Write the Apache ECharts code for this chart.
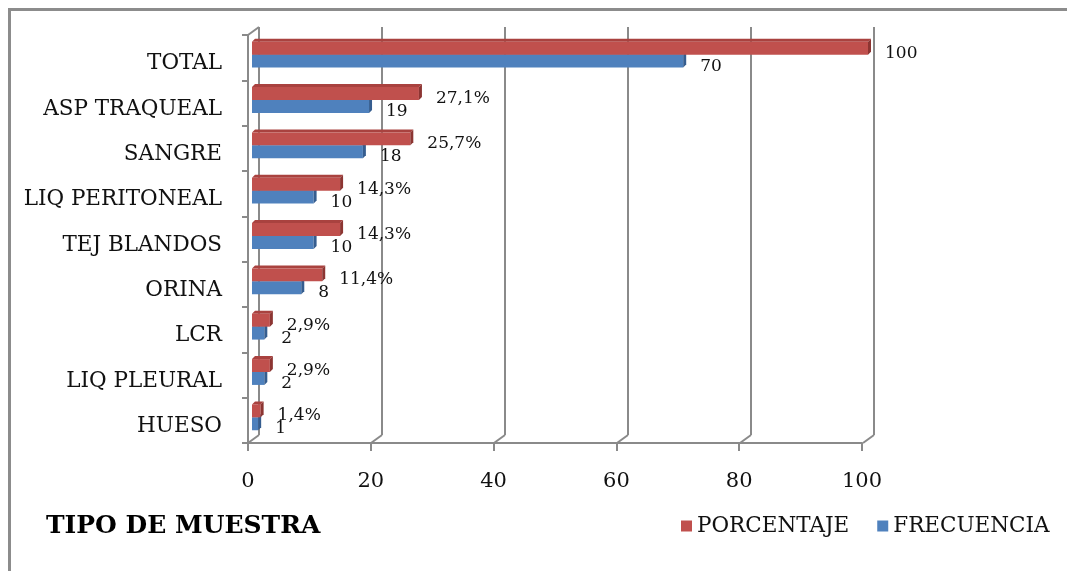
<!DOCTYPE html>
<html>
<head>
<meta charset="utf-8">
<script src="https://cdn.jsdelivr.net/npm/echarts@6/dist/echarts.min.js"></script>
<style>
  html, body { margin: 0; padding: 0; background: #fff; overflow: hidden; }
  #chart { width: 1067px; height: 571px; }
</style>
</head>
<body>
<div id="chart"></div>
<script>
// Sample types, top to bottom
const categories = ['TOTAL', 'ASP TRAQUEAL', 'SANGRE', 'LIQ PERITONEAL', 'TEJ BLANDOS', 'ORINA', 'LCR', 'LIQ PLEURAL', 'HUESO'];
// Share of samples (%)
const porcentaje = [100, 27.1, 25.7, 14.3, 14.3, 11.4, 2.9, 2.9, 1.4];
// Number of samples
const frecuencia = [70, 19, 18, 10, 10, 8, 2, 2, 1];
// Value axis ticks
const xTicks = [0, 20, 40, 60, 80, 100];

const FONT = '"DejaVu Serif", "Liberation Serif", serif';
const GRID_GRAY = '#8a8a8a';

const RED = { front: '#c0504d', top: '#a9423f', side: '#8c3532' };
const BLUE = { front: '#4f81bd', top: '#426ea4', side: '#355d8f' };

function fmtPct(v) {
  return v === 100 ? '100' : v.toFixed(1).replace('.', ',') + '%';
}

// 3D-looking horizontal bar: front face, top face and right end face
function bar3d(colors, upper, fmt) {
  return function (params, api) {
    const v = api.value(0);
    const ci = api.value(1);
    const end = api.coord([v, ci]);
    const start = api.coord([0, ci]);
    const band = api.size([0, 1])[1];
    const h = band * 0.285;
    const d = 3;
    const x0 = start[0], x1 = end[0];
    const y = upper ? end[1] - h : end[1];
    return {
      type: 'group',
      children: [
        { type: 'polygon', shape: { points: [[x0, y], [x0 + d, y - d], [x1 + d, y - d], [x1, y]] },
          style: { fill: colors.top } },
        { type: 'rect', shape: { x: x0, y: y, width: x1 - x0, height: h },
          style: { fill: colors.front } },
        { type: 'polygon', shape: { points: [[x1, y], [x1 + d, y - d], [x1 + d, y + h - d], [x1, y + h]] },
          style: { fill: colors.side } },
        { type: 'text', z2: 10,
          style: { text: fmt(v), x: x1 + 17, y: y + h / 2 + 5, align: 'left', verticalAlign: 'middle',
                   fill: '#111', font: '17px ' + FONT } }
      ]
    };
  };
}

// Floor edges of the back wall gridlines, plus the top edge of the side wall
function floorEdges(params, api) {
  const cs = params.coordSys;
  const x = api.coord([api.value(0), 0])[0];
  const bottom = cs.y + cs.height;
  const children = [
    { type: 'line', shape: { x1: x, y1: bottom, x2: x - 11, y2: bottom + 8 },
      style: { stroke: GRID_GRAY, lineWidth: 2 } }
  ];
  if (api.value(0) === 0) {
    children.push({ type: 'line', shape: { x1: x, y1: cs.y, x2: x - 11, y2: cs.y + 8 },
      style: { stroke: GRID_GRAY, lineWidth: 2 } });
  }
  return { type: 'group', children: children };
}

const chart = echarts.init(document.getElementById('chart'), null, { renderer: 'canvas' });

chart.setOption({
  animation: false,
  backgroundColor: '#fff',
  graphic: [
    { type: 'polyline', z: -10, shape: { points: [[9.5, 571], [9.5, 9.5], [1067, 9.5]] },
      style: { fill: 'none', stroke: '#8c8c8c', lineWidth: 3 } }
  ],
  title: {
    text: 'TIPO DE MUESTRA',
    left: 41, top: 509,
    textStyle: { fontFamily: FONT, fontWeight: 'bold', fontSize: 25, color: '#000' }
  },
  legend: {
    data: ['PORCENTAJE', 'FRECUENCIA'],
    left: 676, top: 510, width: 500,
    icon: 'rect', itemWidth: 11, itemHeight: 11, itemGap: 28,
    textStyle: { fontFamily: FONT, fontSize: 21.5, color: '#111' }
  },
  grid: [
    { left: 248, top: 35, width: 614, height: 408 },   // front axes
    { left: 259, top: 27, width: 615, height: 408 },   // back wall
    { left: 252, top: 32, width: 616, height: 408 },   // bars (mid depth)
    { left: 248, top: 41, width: 614, height: 408 }    // category names
  ],
  xAxis: [
    { gridIndex: 0, type: 'value', min: 0, max: 100, interval: 20,
      axisLine: { show: true, lineStyle: { color: GRID_GRAY, width: 2 } },
      axisTick: { show: true, length: 8, lineStyle: { color: GRID_GRAY, width: 2 } },
      splitLine: { show: false },
      axisLabel: { margin: 28, fontFamily: FONT, fontSize: 21, color: '#111' } },
    { gridIndex: 1, type: 'value', min: 0, max: 100, interval: 20,
      axisLine: { show: false }, axisTick: { show: false }, axisLabel: { show: false },
      splitLine: { show: true, lineStyle: { color: GRID_GRAY, width: 2 } } },
    { gridIndex: 2, type: 'value', min: 0, max: 100, interval: 20, show: false },
    { gridIndex: 3, type: 'value', min: 0, max: 100, interval: 20, show: false }
  ],
  yAxis: [
    { gridIndex: 0, type: 'category', data: categories, inverse: true,
      axisLine: { show: true, lineStyle: { color: GRID_GRAY, width: 2 } },
      axisTick: { show: true, length: 6, lineStyle: { color: GRID_GRAY, width: 2 } },
      splitLine: { show: false },
      axisLabel: { show: false } },
    { gridIndex: 1, type: 'category', data: categories, inverse: true, show: false },
    { gridIndex: 2, type: 'category', data: categories, inverse: true, show: false },
    { gridIndex: 3, type: 'category', data: categories, inverse: true,
      axisLine: { show: false }, axisTick: { show: false }, splitLine: { show: false },
      axisLabel: { margin: 26, fontFamily: FONT, fontSize: 21.5, color: '#111' } }
  ],
  series: [
    { type: 'custom', name: 'floor', xAxisIndex: 1, yAxisIndex: 1, silent: true,
      renderItem: floorEdges, encode: { x: 0, y: 1 },
      data: xTicks.map(v => [v, 0]) },
    { type: 'custom', name: 'FRECUENCIA', xAxisIndex: 2, yAxisIndex: 2,
      itemStyle: { color: BLUE.front },
      renderItem: bar3d(BLUE, false, v => String(v)), encode: { x: 0, y: 1 },
      data: frecuencia.map((v, i) => [v, i]) },
    { type: 'custom', name: 'PORCENTAJE', xAxisIndex: 2, yAxisIndex: 2,
      itemStyle: { color: RED.front },
      renderItem: bar3d(RED, true, fmtPct), encode: { x: 0, y: 1 },
      data: porcentaje.map((v, i) => [v, i]) }
  ]
});
</script>
</body>
</html>
